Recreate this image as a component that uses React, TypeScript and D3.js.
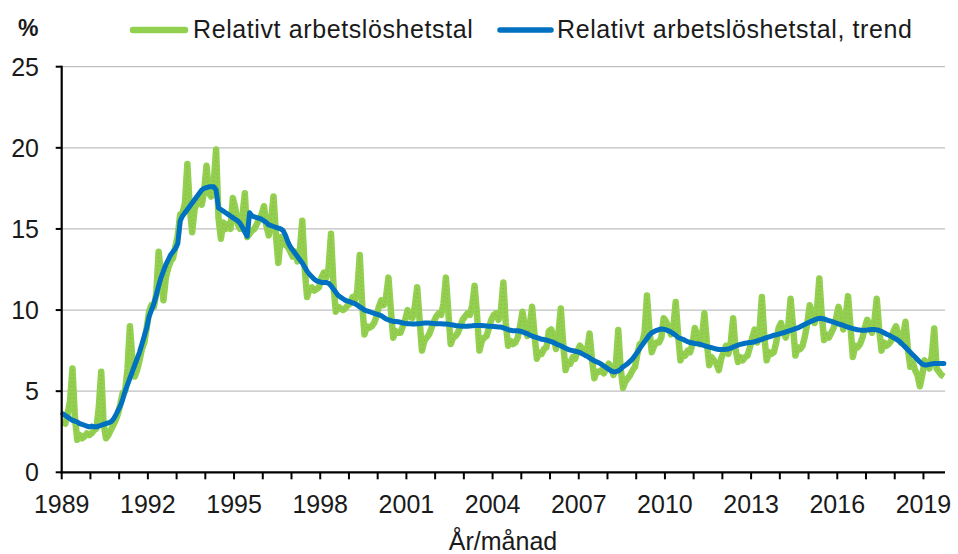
import * as d3 from "d3";

// monthly values, one row per year, Jan 1989 – Sep 2019
const years = d3.range(1989, 2020);

const relativeRate: number[][] = [
  [3.1, 3.0, 3.6, 4.4, 6.4, 3.4, 2.0, 2.3, 2.1, 2.2, 2.4, 2.3],
  [2.4, 2.6, 2.7, 4.0, 6.2, 3.0, 2.1, 2.3, 2.6, 2.9, 3.2, 3.6],
  [4.2, 4.9, 5.0, 6.4, 9.0, 7.0, 5.9, 6.3, 6.9, 7.6, 8.0, 8.9],
  [9.9, 10.3, 10.2, 11.0, 13.6, 12.2, 10.6, 12.0, 12.6, 13.0, 13.2, 13.9],
  [14.6, 15.9, 16.0, 16.6, 19.0, 16.3, 14.8, 16.2, 16.6, 16.9, 16.5, 17.3],
  [18.9, 17.2, 17.0, 17.8, 19.9, 15.7, 14.4, 15.4, 15.0, 15.3, 15.0, 16.9],
  [16.3, 15.3, 15.0, 15.8, 17.2, 14.5, 14.7, 14.9, 15.0, 15.3, 15.6, 15.9],
  [16.4, 15.2, 14.6, 15.6, 17.0, 14.6, 12.9, 14.5, 14.3, 14.0, 13.9, 13.6],
  [13.3, 13.6, 13.0, 13.7, 15.5, 12.6, 10.8, 11.3, 11.4, 11.2, 11.3, 11.4],
  [12.0, 12.3, 12.0, 12.6, 14.7, 11.6, 9.9, 10.2, 10.1, 10.0, 10.1, 10.3],
  [10.4, 10.8, 10.6, 11.2, 13.4, 10.4, 8.5, 9.0, 8.9, 9.0, 9.2, 9.6],
  [10.2, 10.6, 10.3, 10.8, 12.0, 10.0, 8.3, 8.7, 8.6, 8.6, 9.0, 9.4],
  [10.0, 9.6, 9.5, 10.2, 11.4, 9.4, 7.5, 8.1, 8.3, 8.5, 8.9, 9.3],
  [9.6, 9.8, 9.7, 10.4, 12.0, 9.9, 7.9, 8.3, 8.4, 8.6, 9.0, 9.4],
  [9.6, 9.8, 9.7, 10.3, 11.5, 9.7, 7.5, 8.1, 8.3, 8.4, 8.9, 9.4],
  [9.7, 9.8, 9.4, 10.0, 11.7, 9.2, 7.8, 8.1, 7.9, 8.0, 8.3, 9.0],
  [9.9, 9.0, 8.4, 9.0, 10.2, 8.5, 7.0, 7.4, 7.3, 7.6, 7.7, 8.7],
  [8.8, 8.4, 7.6, 8.5, 10.1, 7.9, 6.3, 6.8, 6.7, 7.1, 7.0, 7.5],
  [7.8, 7.6, 7.3, 7.5, 8.56, 7.0, 5.8, 6.2, 6.2, 6.3, 6.1, 6.4],
  [6.7, 6.5, 6.0, 6.6, 8.77, 6.4, 5.2, 5.6, 5.8, 6.0, 6.3, 6.5],
  [7.3, 7.9, 8.0, 8.6, 10.9, 8.8, 7.4, 7.8, 8.0, 8.0, 8.3, 9.5],
  [9.3, 8.9, 8.5, 8.9, 10.5, 8.5, 6.9, 7.3, 7.2, 7.5, 7.4, 7.9],
  [8.9, 8.4, 7.9, 8.4, 9.8, 8.0, 6.6, 7.1, 6.9, 6.7, 6.3, 7.0],
  [7.4, 7.8, 7.3, 8.0, 9.5, 7.6, 6.8, 7.1, 6.9, 7.1, 7.2, 7.7],
  [8.3, 8.8, 8.0, 8.7, 10.8, 8.4, 6.9, 7.4, 7.3, 7.4, 8.0, 8.9],
  [9.2, 8.6, 8.3, 9.0, 10.7, 9.0, 7.2, 7.7, 7.6, 7.8, 8.4, 9.2],
  [10.3, 9.8, 9.2, 10.0, 11.95, 9.7, 8.15, 8.5, 8.3, 8.6, 8.9, 9.5],
  [10.2, 9.6, 8.8, 9.6, 10.86, 9.0, 7.1, 7.8, 7.7, 7.9, 8.3, 8.9],
  [9.4, 9.1, 8.6, 9.3, 10.7, 8.8, 7.5, 8.0, 7.8, 7.9, 8.1, 8.7],
  [9.0, 8.5, 8.0, 8.4, 9.28, 7.6, 6.5, 6.8, 6.3, 6.0, 5.3, 6.0],
  [6.9, 6.6, 6.4, 7.2, 8.87, 6.4, 6.2, 6.0, 5.9],
];

const trendRate: number[][] = [
  [3.6, 3.5, 3.4, 3.3, 3.2, 3.15, 3.1, 3.0, 2.95, 2.9, 2.85, 2.8],
  [2.85, 2.8, 2.8, 2.85, 2.9, 2.95, 3.0, 3.05, 3.1, 3.25, 3.5, 3.8],
  [4.1, 4.5, 5.0, 5.4, 5.8, 6.2, 6.6, 7.0, 7.4, 7.9, 8.4, 8.9],
  [9.6, 10.0, 10.4, 10.9, 11.5, 12.0, 12.4, 12.8, 13.1, 13.4, 13.6, 13.8],
  [14.1, 15.5, 15.8, 16.0, 16.2, 16.4, 16.6, 16.8, 17.0, 17.2, 17.4, 17.5],
  [17.55, 17.6, 17.6, 17.6, 17.4, 16.3, 16.2, 16.1, 16.0, 15.9, 15.8, 15.7],
  [15.6, 15.5, 15.35, 15.1, 14.8, 14.55, 16.0, 15.8, 15.75, 15.7, 15.65, 15.6],
  [15.5, 15.4, 15.25, 15.2, 15.15, 15.1, 15.05, 15.0, 14.9, 14.6, 14.2, 13.9],
  [13.7, 13.5, 13.3, 13.1, 12.9, 12.65, 12.4, 12.2, 12.05, 11.9, 11.8, 11.75],
  [11.7, 11.7, 11.7, 11.65, 11.5, 11.3, 11.1, 10.9, 10.8, 10.7, 10.6, 10.55],
  [10.5, 10.45, 10.4, 10.3, 10.2, 10.1, 10.0, 9.95, 9.9, 9.85, 9.8, 9.75],
  [9.7, 9.65, 9.55, 9.45, 9.4, 9.35, 9.3, 9.3, 9.28, 9.25, 9.2, 9.18],
  [9.16, 9.15, 9.14, 9.14, 9.15, 9.16, 9.18, 9.2, 9.2, 9.2, 9.18, 9.17],
  [9.16, 9.15, 9.15, 9.14, 9.14, 9.12, 9.1, 9.08, 9.05, 9.03, 9.02, 9.0],
  [9.0, 9.0, 9.02, 9.03, 9.05, 9.05, 9.05, 9.05, 9.04, 9.02, 9.0, 9.0],
  [8.98, 8.97, 8.96, 8.95, 8.9, 8.85, 8.8, 8.75, 8.73, 8.72, 8.72, 8.7],
  [8.65, 8.6, 8.55, 8.46, 8.4, 8.35, 8.3, 8.25, 8.2, 8.18, 8.15, 8.1],
  [8.05, 8.0, 7.92, 7.85, 7.8, 7.72, 7.65, 7.58, 7.53, 7.5, 7.46, 7.43],
  [7.38, 7.3, 7.22, 7.15, 7.05, 6.95, 6.88, 6.8, 6.75, 6.65, 6.55, 6.45],
  [6.35, 6.25, 6.19, 6.2, 6.25, 6.35, 6.5, 6.6, 6.71, 6.85, 7.0, 7.2],
  [7.4, 7.63, 7.85, 8.05, 8.25, 8.46, 8.6, 8.68, 8.75, 8.8, 8.83, 8.82],
  [8.78, 8.72, 8.65, 8.55, 8.45, 8.31, 8.25, 8.2, 8.12, 8.05, 8.0, 7.97],
  [7.94, 7.92, 7.9, 7.85, 7.8, 7.76, 7.72, 7.68, 7.64, 7.6, 7.57, 7.57],
  [7.57, 7.58, 7.6, 7.65, 7.72, 7.78, 7.84, 7.88, 7.92, 7.95, 7.98, 8.0],
  [8.02, 8.05, 8.1, 8.15, 8.2, 8.25, 8.3, 8.35, 8.4, 8.45, 8.48, 8.52],
  [8.56, 8.6, 8.65, 8.7, 8.75, 8.8, 8.85, 8.9, 8.97, 9.05, 9.12, 9.2],
  [9.27, 9.33, 9.4, 9.45, 9.49, 9.48, 9.45, 9.4, 9.35, 9.3, 9.25, 9.2],
  [9.14, 9.1, 9.05, 9.0, 8.95, 8.9, 8.86, 8.82, 8.79, 8.77, 8.76, 8.76],
  [8.77, 8.79, 8.8, 8.8, 8.78, 8.74, 8.68, 8.6, 8.52, 8.46, 8.38, 8.3],
  [8.22, 8.12, 8.0, 7.85, 7.7, 7.55, 7.4, 7.25, 7.1, 6.95, 6.8, 6.67],
  [6.62, 6.62, 6.65, 6.68, 6.7, 6.7, 6.7, 6.7, 6.7],
];

const yTicks = [0, 5, 10, 15, 20, 25];
const xLabelYears = [1989, 1992, 1995, 1998, 2001, 2004, 2007, 2010, 2013, 2016, 2019];
const seriesNames = ["Relativt arbetslöshetstal", "Relativt arbetslöshetstal, trend"];

const W = 958;
const H = 554;
const FONT = "'Liberation Sans', Arial, Helvetica, sans-serif";
const GREEN = "#92D050";
const BLUE = "#0070C0";
const INK = "#1a1a1a";

export default function App() {
  const monthly = relativeRate.flat();
  const trend = trendRate.flat();
  const n = monthly.length;

  const x = d3.scaleLinear().domain([0, n]).range([61.7, 945]);
  const y = d3.scaleLinear().domain([0, 25]).range([472.3, 66.7]);

  const line = d3
    .line<number>()
    .x((_, i) => x(i + 0.5))
    .y((d) => y(d));

  const yearTicks = years.map((yr) => (yr - 1989) * 12);

  return (
    <div style={{ position: "absolute", left: 0, top: 0 }}>
      <svg width={W} height={H} style={{ display: "block", background: "#fff" }} fontFamily={FONT}>
        {/* gridlines */}
        {yTicks.filter((t) => t > 0).map((t) => (
          <line key={t} x1={x(0)} x2={x(n)} y1={y(t)} y2={y(t)} stroke="#BFBFBF" strokeWidth={1.3} />
        ))}

        {/* series */}
        <path d={line(monthly) || ""} fill="none" stroke={GREEN} strokeWidth={6.5} strokeLinejoin="round" />
        <path
          d={line(monthly) || ""}
          fill="none"
          stroke="#B08A40"
          strokeOpacity={0.45}
          strokeWidth={1.3}
          strokeDasharray="1 3"
        />
        <path d={line(trend) || ""} fill="none" stroke={BLUE} strokeWidth={5} strokeLinejoin="round" strokeLinecap="round" />

        {/* y axis */}
        <line x1={x(0)} x2={x(0)} y1={y(25) - 1} y2={y(0) + 1} stroke="#000" strokeWidth={2.2} />
        {yTicks.map((t) => (
          <g key={t}>
            <line x1={x(0) - 6} x2={x(0)} y1={y(t)} y2={y(t)} stroke="#000" strokeWidth={2} />
            <text x={39} y={y(t) + 9} textAnchor="end" fontSize={25} fill={INK}>
              {t}
            </text>
          </g>
        ))}

        {/* x axis */}
        <line x1={x(0) - 1} x2={x(n)} y1={y(0)} y2={y(0)} stroke="#000" strokeWidth={2.2} />
        {yearTicks.map((m) => (
          <line key={m} x1={x(m)} x2={x(m)} y1={y(0)} y2={y(0) + 7} stroke="#000" strokeWidth={2} />
        ))}
        {xLabelYears.map((yr) => (
          <text key={yr} x={x((yr - 1989) * 12)} y={513} textAnchor="middle" fontSize={25} fill={INK}>
            {yr}
          </text>
        ))}
        <text x={503} y={550} textAnchor="middle" fontSize={25} fill={INK}>
          År/månad
        </text>

        {/* unit */}
        <text x={18} y={36} fontSize={23} fontWeight="bold" fill={INK}>
          %
        </text>

        {/* legend */}
        <line x1={133} x2={185} y1={30} y2={30} stroke={GREEN} strokeWidth={6.5} strokeLinecap="round" />
        <text x={193} y={38} fontSize={25} letterSpacing={0.6} fill={INK}>
          {seriesNames[0]}
        </text>
        <line x1={500} x2={551} y1={30} y2={30} stroke={BLUE} strokeWidth={5.5} strokeLinecap="round" />
        <text x={557} y={38} fontSize={25} letterSpacing={0.6} fill={INK}>
          {seriesNames[1]}
        </text>
      </svg>
    </div>
  );
}
